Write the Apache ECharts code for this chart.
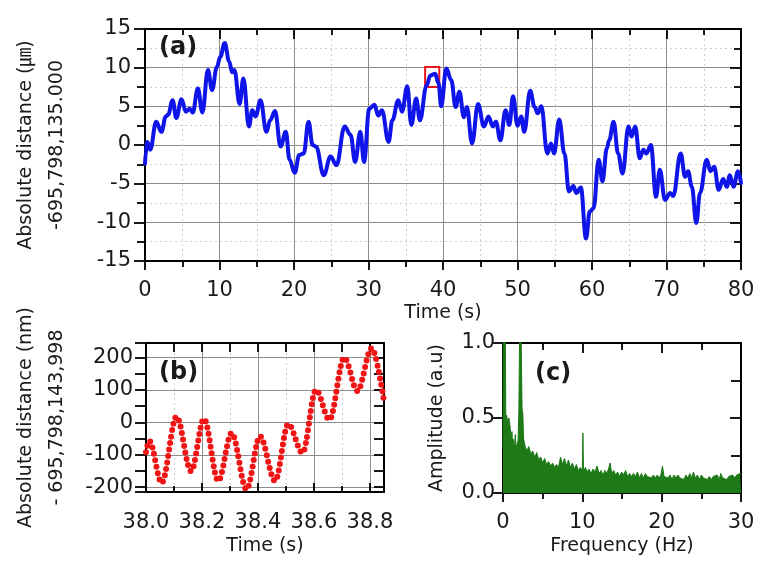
<!DOCTYPE html>
<html><head><meta charset="utf-8">
<script src="https://cdn.jsdelivr.net/npm/echarts@6/dist/echarts.min.js"></script>
<style>html,body{margin:0;padding:0;background:#fff}#c{width:772px;height:579px}</style>
</head><body><div id="c"></div><script>
// ---- Panel (a): absolute distance vs time ----
const timeA = [0.0,0.1,0.3,0.7,1.5,2.2,2.8,3.1,3.7,4.2,
4.9,5.5,6.0,6.4,7.1,7.7,8.45,9.0,9.65,10.1,
10.7,11.3,11.7,12.0,12.7,13.2,13.95,14.4,14.85,15.5,
16.3,16.8,17.45,18.2,18.9,19.4,20.1,20.7,21.3,21.95,
22.5,22.95,24.0,24.9,25.7,26.8,27.6,28.2,28.9,29.4,
30.1,30.8,31.3,31.8,32.7,33.2,34.0,34.5,35.2,35.75,
36.4,36.9,37.8,38.3,38.95,39.4,39.75,40.45,41.1,41.7,
42.2,42.8,43.2,43.9,44.7,45.5,46.1,46.7,47.1,47.7,
48.4,48.9,49.4,50.0,50.5,50.9,51.7,52.3,52.7,53.2,
54.0,54.5,54.9,55.6,56.3,56.9,57.5,57.9,58.5,59.2,
59.7,60.2,60.9,61.4,62.0,62.3,62.9,63.5,64.1,64.9,
65.3,65.8,66.4,66.9,67.3,67.9,68.6,69.1,69.8,70.5,
70.9,71.9,72.5,72.9,73.4,74.0,74.5,75.4,75.9,76.4,
77.0,77.6,78.1,78.5,79.0,79.6,80.0];
const distA = [-2.4,-1.0,0.4,-0.6,3.0,1.7,3.7,3.9,5.8,3.5,
5.9,4.3,4.7,4.2,7.3,4.2,9.7,7.1,10.1,11.4,
13.2,10.8,9.4,9.7,5.3,8.6,2.4,4.5,3.7,5.8,
1.7,3.2,4.4,-0.2,1.7,-1.9,-3.6,-1.3,-1.1,3.0,
0.0,-0.2,-3.9,-1.5,-2.6,2.4,1.3,-2.2,1.7,-2.2,
4.7,5.2,3.8,4.5,0.4,3.2,5.8,4.3,7.6,2.6,
6.0,3.2,7.7,9.0,9.2,8.0,5.0,9.9,8.4,4.9,
6.9,3.6,4.9,0.2,5.3,2.4,3.7,2.4,3.0,0.6,
4.5,2.6,6.3,2.5,3.7,1.7,7.0,4.9,4.1,5.0,
-1.1,0.2,-1.1,3.3,-1.1,-6.0,-5.3,-6.2,-5.5,-12.1,
-8.6,-8.2,-1.9,-4.7,-0.4,0.6,3.0,-1.1,-3.7,2.4,
1.1,2.4,-1.7,-0.6,-1.1,0.0,-6.7,-3.2,-7.1,-6.2,
-6.6,-1.1,-4.1,-3.4,-5.4,-10.1,-6.2,-1.9,-3.4,-2.8,
-5.8,-4.4,-5.4,-3.9,-5.4,-3.4,-4.9];
const zoomBoxTime = [37.6, 39.5];
const zoomBoxDist = [7.5, 10.1];

// ---- Panel (b): zoom 38.0 - 38.85 s (nm) ----
const timeB = [38.0,38.012,38.056,38.109,38.161,38.207,38.258,38.306,38.359,38.407,38.461,38.508,38.559,38.607,38.655,38.708,38.755,38.806,38.85];
const distB = [-92,-57,-187,18,-151,11,-181,-33,-207,-43,-181,-5,-94,100,8,200,97,229,65];

// ---- Panel (c): amplitude spectrum ----
const freqC = [0,0.05,0.1,0.2,0.3,0.35,0.45,0.6,0.75,0.9,
1.0,1.13,1.2,1.3,1.45,1.55,1.65,1.76,1.9,2.0,
2.1,2.18,2.3,2.4,2.5,2.6,2.8,3.0,3.25,3.5,
3.75,4.0,4.25,4.5,4.75,5.0,5.25,5.5,5.75,6.0,
6.25,6.5,6.75,7.0,7.25,7.5,7.75,8.0,8.25,8.5,
8.75,9.0,9.25,9.5,9.75,10.0,10.07,10.15,10.4,10.6,
10.85,11.1,11.35,11.6,11.85,12.1,12.35,12.6,12.85,13.1,
13.35,13.5,13.7,13.95,14.2,14.45,14.7,14.95,15.2,15.45,
15.7,15.95,16.2,16.45,16.7,16.95,17.2,17.45,17.7,17.95,
18.2,18.45,18.7,18.95,19.2,19.45,19.7,19.9,20.1,20.3,
20.55,20.8,21.05,21.3,21.55,21.8,22.05,22.3,22.55,22.8,
23.05,23.3,23.55,23.8,24.0,24.25,24.5,24.75,25.0,25.25,
25.5,25.75,26.0,26.25,26.5,26.75,27.0,27.25,27.45,27.7,
27.95,28.2,28.45,28.7,28.95,29.2,29.45,29.7,29.9,30.0];
const ampC = [0.3,1.2,1.3,1.2,1.1,0.5,0.52,0.47,0.5,0.44,
0.36,0.41,0.33,0.36,0.3,0.39,0.3,0.31,0.35,0.55,
1.1,1.2,1.0,0.56,0.53,0.36,0.31,0.28,0.31,0.26,
0.28,0.24,0.27,0.22,0.24,0.2,0.23,0.19,0.21,0.18,
0.2,0.17,0.19,0.17,0.24,0.19,0.23,0.18,0.22,0.17,
0.2,0.16,0.19,0.15,0.17,0.15,0.40,0.15,0.17,0.14,
0.16,0.13,0.16,0.14,0.18,0.13,0.15,0.12,0.15,0.13,
0.17,0.2,0.13,0.15,0.12,0.14,0.11,0.14,0.12,0.15,
0.11,0.13,0.11,0.13,0.11,0.14,0.1,0.13,0.1,0.13,
0.11,0.12,0.1,0.12,0.1,0.12,0.1,0.12,0.18,0.11,
0.12,0.1,0.12,0.09,0.12,0.1,0.12,0.1,0.11,0.09,
0.12,0.1,0.13,0.1,0.14,0.1,0.12,0.09,0.12,0.1,
0.11,0.09,0.11,0.09,0.11,0.1,0.12,0.09,0.13,0.1,
0.11,0.09,0.11,0.1,0.12,0.1,0.12,0.11,0.13,0.12];

const FONT = '"DejaVu Sans", "Liberation Sans", "Noto Sans CJK JP", sans-serif';
const TXT = '#1a1a1a';

function axis(o) {
  return {
    type: 'value', gridIndex: o.grid, min: o.min, max: o.max, interval: o.interval,
    position: o.pos, scale: false,
    axisLine: {show: true, onZero: false, lineStyle: {color: '#000', width: 2}},
    axisTick: {show: true, inside: !!o.inside, length: o.len, lineStyle: {color: '#000', width: 1.8}},
    minorTick: {show: o.mlen > 0, splitNumber: 2, length: o.mlen || 0, lineStyle: {color: '#000', width: 1.8}},
    axisLabel: {show: !!o.label, fontSize: 21, fontFamily: FONT, color: TXT, margin: o.margin || 8,
      formatter: o.fmt, showMinLabel: o.showMin, showMaxLabel: o.showMax},
    splitLine: {show: !!o.split, lineStyle: {color: '#8c8c8c', width: 1}},
    minorSplitLine: {show: !!o.minorSplit, lineStyle: {color: '#cfcfcf', width: 1, type: [2, 3]}},
    name: o.name || '', nameLocation: 'middle', nameGap: o.nameGap || 0,
    nameTextStyle: {fontSize: 19, fontFamily: FONT, color: TXT, lineHeight: o.lineHeight || 22}
  };
}
const f1 = v => (Math.round(v * 10) / 10).toFixed(1);
const panelLabel = {fontSize: 24, fontWeight: 'bold', fontFamily: FONT, color: TXT};

const option = {
  backgroundColor: '#ffffff',
  animation: false,
  title: [
    {text: '(a)', left: 154, top: 31, textStyle: panelLabel},
    {text: '(b)', left: 154, top: 356, textStyle: panelLabel},
    {text: '(c)', left: 530, top: 357, textStyle: panelLabel}
  ],
  grid: [
    {left: 145, top: 29, width: 596, height: 232},
    {left: 146, top: 343, width: 238, height: 149},
    {left: 503, top: 343, width: 238, height: 150}
  ],
  xAxis: [
    axis({grid: 0, min: 0, max: 80, interval: 10, pos: 'bottom', len: 9, mlen: 6, label: true, margin: 19,
      split: true, minorSplit: true, name: 'Time (s)', nameGap: 41}),
    axis({grid: 0, min: 0, max: 80, interval: 10, pos: 'top', inside: true, len: 10, mlen: 6}),
    axis({grid: 1, min: 38.0, max: 38.85, interval: 0.2, pos: 'bottom', inside: true, len: 9, mlen: 6, label: true,
      margin: 20, fmt: f1, showMax: false, split: true, minorSplit: true, name: 'Time (s)', nameGap: 43}),
    axis({grid: 1, min: 38.0, max: 38.85, interval: 0.2, pos: 'top', inside: true, len: 9, mlen: 9}),
    axis({grid: 2, min: 0, max: 30, interval: 10, pos: 'bottom', len: 9, mlen: 6, label: true, margin: 19,
      name: 'Frequency (Hz)', nameGap: 42}),
    axis({grid: 2, min: 0, max: 30, interval: 10, pos: 'top', inside: true, len: 10, mlen: 7})
  ],
  yAxis: [
    axis({grid: 0, min: -15, max: 15, interval: 5, pos: 'left', len: 11, mlen: 8, label: true, margin: 14,
      split: true, minorSplit: true, name: 'Absolute distance (\u339B)\n-695,798,135.000', nameGap: 72, lineHeight: 31}),
    axis({grid: 0, min: -15, max: 15, interval: 5, pos: 'right', inside: true, len: 11, mlen: 7}),
    axis({grid: 1, min: -215, max: 245, pos: 'left', len: 11, mlen: 11, label: true, margin: 13,
      showMin: false, showMax: false, split: true, name: 'Absolute distance (nm)\n- 695,798,143,998', nameGap: 73, lineHeight: 31}),
    axis({grid: 1, min: -215, max: 245, pos: 'right', inside: true, len: 10, mlen: 10}),
    axis({grid: 2, min: 0, max: 1, interval: 0.5, pos: 'left', len: 11, mlen: 0, label: true, margin: 8, fmt: f1,
      name: 'Amplitude (a.u)', nameGap: 55}),
    axis({grid: 2, min: 0, max: 1, interval: 0.5, pos: 'right', inside: true, len: 11, mlen: 10})
  ],
  series: [
    {
      type: 'line', xAxisIndex: 0, yAxisIndex: 0, showSymbol: false, smooth: 0.4, smoothMonotone: 'x', clip: true,
      data: timeA.map((t, i) => [t, distA[i]]),
      lineStyle: {color: '#0f14e8', width: 4, join: 'round', cap: 'round'},
      markArea: {silent: true, itemStyle: {color: 'rgba(0,0,0,0)', borderColor: '#e8141c', borderWidth: 2},
        data: [[{coord: [zoomBoxTime[0], zoomBoxDist[0]]}, {coord: [zoomBoxTime[1], zoomBoxDist[1]]}]]}
    },
    {
      type: 'line', xAxisIndex: 2, yAxisIndex: 2, showSymbol: false, smooth: 0.34, smoothMonotone: 'x', clip: true,
      data: timeB.map((t, i) => [t, distB[i]]),
      lineStyle: {color: '#f01414', width: 6, type: [0, 6.5], cap: 'round'}
    },
    {
      type: 'line', xAxisIndex: 4, yAxisIndex: 4, showSymbol: false, clip: true,
      data: freqC.map((f, i) => [f, ampC[i]]),
      lineStyle: {color: '#1d7a17', width: 1},
      areaStyle: {color: '#1d7a17', opacity: 1}
    }
  ]
};
const chart = echarts.init(document.getElementById('c'));
chart.setOption(option);
</script></body></html>
